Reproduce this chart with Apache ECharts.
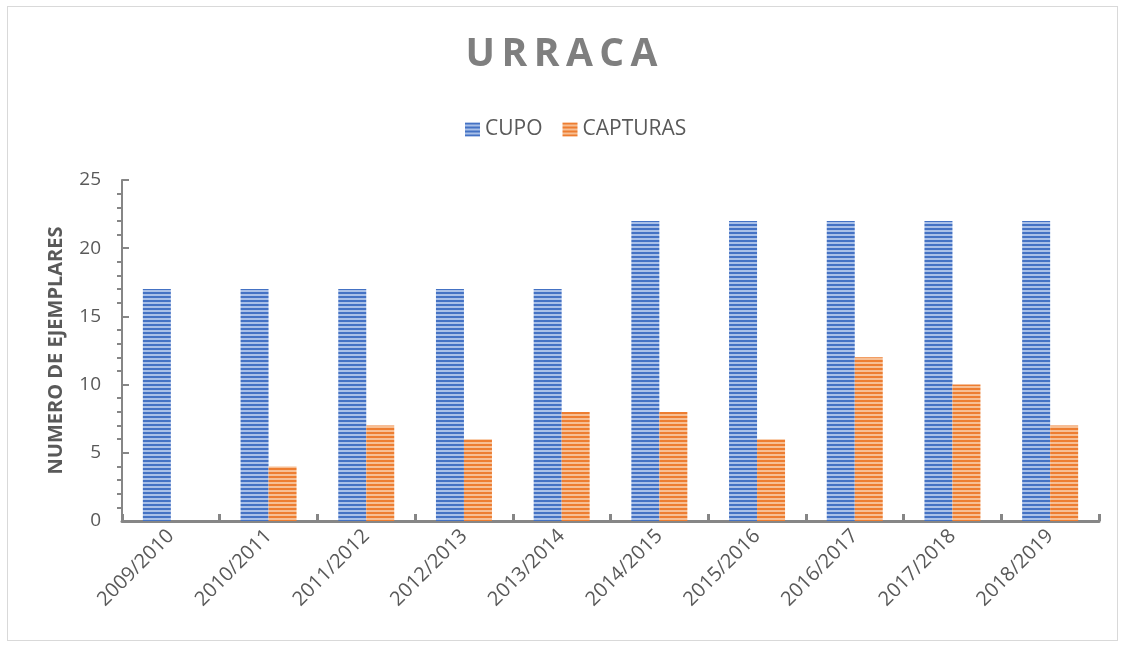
<!DOCTYPE html>
<html>
<head>
<meta charset="utf-8">
<script src="https://cdn.jsdelivr.net/npm/echarts@6/dist/echarts.min.js"></script>
<style>
  html, body { margin: 0; padding: 0; background: #fff; }
  #frame { position: absolute; left: 7px; top: 6px; width: 1109px; height: 633px; border: 1px solid #d9d9d9; }
  #bar { width: 1123px; height: 645px; }
</style>
</head>
<body>
<div id="frame"></div>
<div id="bar"></div>
<script>
// datos
var temporadas = ['2009/2010', '2010/2011', '2011/2012', '2012/2013', '2013/2014',
                  '2014/2015', '2015/2016', '2016/2017', '2017/2018', '2018/2019'];
var cupo = [17, 17, 17, 17, 17, 22, 22, 22, 22, 22];
var capturas = [null, 4, 7, 6, 8, 8, 6, 12, 10, 7];

// relleno rayado horizontal
function rayas(oscuro, claro) {
	var c = document.createElement('canvas');
	c.width = 4; c.height = 4;
	var ctx = c.getContext('2d');
	ctx.fillStyle = claro;
	ctx.fillRect(0, 0, 4, 4);
	ctx.fillStyle = oscuro;
	ctx.fillRect(0, 0, 4, 2);
	return { image: c, repeat: 'repeat' };
}

var gris = '#595959';
var myChart = echarts.init(document.getElementById('bar'));

var option = {
	title: {
		text: 'U\u2009R\u2009R\u2009A\u2009C\u2009A',
		left: 'center',
		top: 30,
		textStyle: { fontFamily: 'Open Sans', fontSize: 39, fontWeight: 'bold', color: '#7f7f7f' }
	},
	legend: {
		data: ['CUPO', 'CAPTURAS'],
		top: 114,
		left: 460,
		itemWidth: 15,
		itemHeight: 14,
		itemGap: 20,
		icon: 'rect',
		textStyle: { fontFamily: 'Open Sans', fontSize: 21, color: gris }
	},
	grid: { left: 122, right: 24, top: 180, bottom: 124, containLabel: false },
	xAxis: {
		type: 'category',
		data: temporadas,
		axisLine: { lineStyle: { color: '#868686', width: 3 } },
		axisTick: { show: true, inside: true, length: 7, lineStyle: { color: '#868686', width: 3 } },
		axisLabel: { rotate: 45, fontFamily: 'Open Sans', fontSize: 20, color: gris, margin: 12 }
	},
	yAxis: {
		type: 'value',
		min: 0,
		max: 25,
		interval: 5,
		name: 'NUMERO DE EJEMPLARES',
		nameLocation: 'middle',
		nameGap: 56,
		nameTextStyle: { fontFamily: 'Open Sans', fontSize: 20, fontWeight: 'bold', color: gris },
		axisLine: { show: true, lineStyle: { color: '#868686', width: 2 } },
		axisTick: { show: true, inside: true, length: 7, lineStyle: { color: '#868686', width: 2 } },
		minorTick: { show: true, splitNumber: 5, length: -5, lineStyle: { color: '#868686', width: 2 } },
		splitLine: { show: false },
		axisLabel: { fontFamily: 'Open Sans', fontSize: 19, color: gris, margin: 21 }
	},
	series: [{
		name: 'CUPO',
		type: 'bar',
		data: cupo,
		barWidth: 28,
		barGap: '0%',
		itemStyle: { color: rayas('#4472c4', '#a9c0e8') }
	}, {
		name: 'CAPTURAS',
		type: 'bar',
		data: capturas,
		barWidth: 28,
		itemStyle: { color: rayas('#ed7d31', '#f7bf94') }
	}]
};

myChart.setOption(option);
</script>
</body>
</html>
